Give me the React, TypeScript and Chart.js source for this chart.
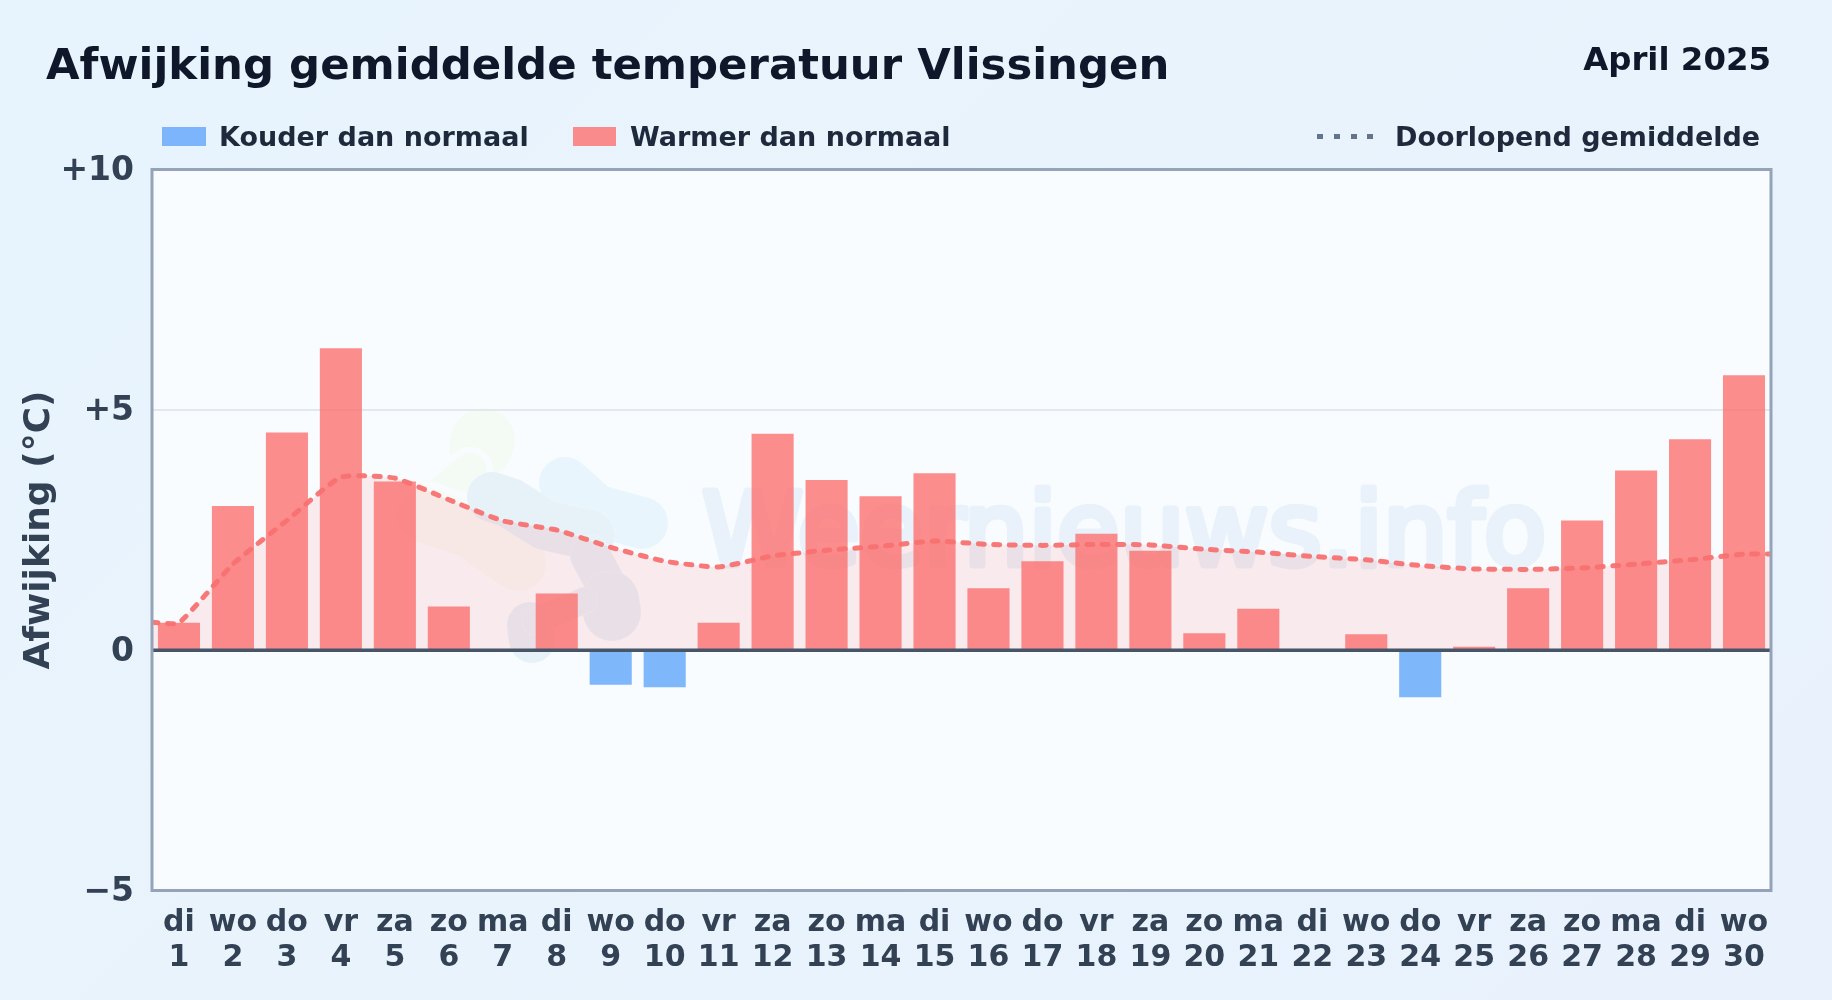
import React, { useEffect, useRef } from "react";
import { Chart, registerables } from "chart.js";

Chart.register(...registerables);

const TITLE = "Afwijking gemiddelde temperatuur Vlissingen";
const PERIOD = "April 2025";
const LABEL_COLD = "Kouder dan normaal";
const LABEL_WARM = "Warmer dan normaal";
const LABEL_AVG = "Doorlopend gemiddelde";
const Y_TITLE = "Afwijking (°C)";
const WATERMARK = "Weernieuws.info";

const weekdays = ["di","wo","do","vr","za","zo","ma","di","wo","do","vr","za","zo","ma","di","wo","do","vr","za","zo","ma","di","wo","do","vr","za","zo","ma","di","wo"];
const days = [1,2,3,4,5,6,7,8,9,10,11,12,13,14,15,16,17,18,19,20,21,22,23,24,25,26,27,28,29,30];
const deviations = [0.57,3.0,4.53,6.28,3.51,0.91,0,1.18,-0.72,-0.77,0.57,4.5,3.54,3.2,3.68,1.29,1.85,2.42,2.07,0.35,0.86,0.02,0.33,-0.98,0.07,1.29,2.7,3.74,4.39,5.72];
const runningMean = [0.57,1.79,2.7,3.6,3.58,3.13,2.69,2.5,2.14,1.85,1.73,1.96,2.08,2.16,2.27,2.2,2.18,2.2,2.19,2.1,2.04,1.95,1.88,1.76,1.69,1.68,1.71,1.79,1.88,2.0];
const edgeMeans = [0.58, 2.0];
const yTicks = [-5, 0, 5, 10];

const FONT = '"DejaVu Sans", sans-serif';

const coldPoints = days.map((d, i) => ({ x: d, y: deviations[i] })).filter((p) => p.y < 0);
const warmPoints = days.map((d, i) => ({ x: d, y: deviations[i] })).filter((p) => p.y >= 0);
const meanPoints = [
  { x: 0.5, y: edgeMeans[0] },
  ...days.map((d, i) => ({ x: d, y: runningMean[i] })),
  { x: 30.5, y: edgeMeans[1] },
];

const GREEN = "rgb(206,243,155)";
const SKY = "rgb(98,184,230)";
const BLUE = "rgb(73,143,188)";
const GOLD = "rgb(238,240,165)";
const logoStrokes: [string, number, number[][]][] = [
  [GREEN, 64, [[483, 440], [481, 446]]],
  [GREEN, 34, [[470, 470], [440, 495]]],
  [GOLD, 56, [[425, 515], [470, 530], [518, 563]]],
  [SKY, 52, [[565, 483], [595, 510], [642, 523]]],
  [BLUE, 50, [[492, 497], [510, 503], [545, 525], [590, 535]]],
  [BLUE, 40, [[590, 555], [606, 585]]],
  [BLUE, 58, [[610, 600], [612, 612]]],
  [BLUE, 46, [[530, 625], [532, 640]]],
  [BLUE, 26, [[535, 622], [585, 600]]],
];

const watermark = {
  id: "watermark",
  beforeDatasetsDraw(chart: any) {
    const { ctx } = chart;
    const logo = document.createElement("canvas");
    logo.width = chart.width;
    logo.height = chart.height;
    const l = logo.getContext("2d") as CanvasRenderingContext2D;
    l.lineCap = "round";
    l.lineJoin = "round";
    logoStrokes.forEach(([color, width, pts]) => {
      l.beginPath();
      l.moveTo(pts[0][0], pts[0][1]);
      pts.slice(1).forEach((p) => l.lineTo(p[0], p[1]));
      l.globalCompositeOperation = "destination-out";
      l.lineWidth = width + 12;
      if (color === BLUE) l.lineWidth = width;
      l.stroke();
      l.globalCompositeOperation = "source-over";
      l.strokeStyle = color;
      l.lineWidth = width;
      l.stroke();
    });

    const word = document.createElement("canvas");
    word.width = chart.width;
    word.height = chart.height;
    const w = word.getContext("2d") as CanvasRenderingContext2D;
    w.font = `400 102.4px ${FONT}`;
    w.textBaseline = "alphabetic";
    w.textAlign = "left";
    w.fillStyle = "rgb(59,130,196)";
    w.strokeStyle = "rgb(59,130,196)";
    w.lineWidth = 7;
    w.lineJoin = "round";
    w.fillText(WATERMARK, 702, 565);
    w.strokeText(WATERMARK, 702, 565);

    ctx.save();
    ctx.globalAlpha = 0.09;
    ctx.drawImage(logo, 0, 0);
    ctx.globalAlpha = 0.07;
    ctx.drawImage(word, 0, 0);
    ctx.restore();
  },
};

const plotBackground = {
  id: "plotBackground",
  beforeDraw(chart: any) {
    const { ctx, chartArea: a } = chart;
    ctx.save();
    ctx.fillStyle = "#f8fcff";
    ctx.fillRect(a.left, a.top, a.width, a.height);
    ctx.restore();
  },
};

const zeroLine = {
  id: "zeroLine",
  afterDatasetsDraw(chart: any) {
    const { ctx, chartArea: a, scales } = chart;
    const y = scales.y.getPixelForValue(0);
    ctx.save();
    ctx.strokeStyle = "#475569";
    ctx.lineWidth = 3.5;
    ctx.beginPath();
    ctx.moveTo(a.left, y);
    ctx.lineTo(a.right, y);
    ctx.stroke();
    ctx.restore();
  },
};

const frame = {
  id: "frame",
  afterDraw(chart: any) {
    const { ctx, chartArea: a } = chart;
    ctx.save();
    ctx.strokeStyle = "#94a3b8";
    ctx.lineWidth = 3;
    ctx.strokeRect(a.left, a.top, a.width, a.height);

    ctx.textBaseline = "alphabetic";
    ctx.fillStyle = "#0f172a";
    ctx.textAlign = "left";
    ctx.font = `700 43.4px ${FONT}`;
    ctx.fillText(TITLE, 46, 79);
    ctx.textAlign = "right";
    ctx.font = `700 32.4px ${FONT}`;
    ctx.fillText(PERIOD, 1771, 70);

    ctx.textAlign = "left";
    ctx.font = `700 27px ${FONT}`;
    ctx.fillStyle = "rgba(96,165,250,0.8)";
    ctx.fillRect(162, 127, 44, 19);
    ctx.fillStyle = "rgba(252,113,113,0.8)";
    ctx.fillRect(573, 127, 43, 19);
    ctx.fillStyle = "#1e293b";
    ctx.fillText(LABEL_COLD, 219, 146);
    ctx.fillText(LABEL_WARM, 630, 146);
    ctx.fillText(LABEL_AVG, 1395, 146);
    ctx.fillStyle = "#64748b";
    [1317, 1334, 1351, 1367].forEach((x) => ctx.fillRect(x, 134, 6, 5));
    ctx.restore();
  },
};

export default function App() {
  const ref = useRef<HTMLCanvasElement>(null);
  useEffect(() => {
    if (!ref.current) return;
    const chart = new Chart(ref.current, {
      data: {
        datasets: [
          {
            type: "line",
            label: LABEL_AVG,
            data: meanPoints,
            order: 0,
            borderColor: "rgba(248,113,113,0.95)",
            borderWidth: 5,
            borderDash: [6, 9.5],
            borderCapStyle: "round",
            backgroundColor: "rgba(248,113,113,0.13)",
            fill: "origin",
            tension: 0.15,
            pointRadius: 0,
          },
          {
            type: "bar",
            label: LABEL_COLD,
            data: coldPoints,
            order: 1,
            grouped: false,
            backgroundColor: "rgba(96,165,250,0.8)",
            barPercentage: 0.78,
            categoryPercentage: 1,
          },
          {
            type: "bar",
            label: LABEL_WARM,
            data: warmPoints,
            order: 1,
            grouped: false,
            backgroundColor: "rgba(252,113,113,0.8)",
            barPercentage: 0.78,
            categoryPercentage: 1,
          },
        ],
      } as any,
      options: {
        animation: false,
        responsive: false,
        devicePixelRatio: 1,
        layout: { padding: { top: 169.5, right: 61, bottom: 0, left: 0 } },
        plugins: { legend: { display: false }, tooltip: { enabled: false }, title: { display: false } },
        scales: {
          x: {
            type: "linear",
            min: 0.5,
            max: 30.5,
            offset: false,
            grid: { display: false },
            border: { display: false },
            afterFit: (s: any) => { s.height = 109.5; },
            afterBuildTicks: (s: any) => { s.ticks = days.map((d) => ({ value: d })); },
            ticks: {
              autoSkip: false,
              maxRotation: 0,
              minRotation: 0,
              padding: 7,
              color: "#334155",
              font: { family: FONT, weight: 700, size: 30, lineHeight: 1.17 },
              callback: (v: any) => [weekdays[Number(v) - 1], String(v)],
            },
          },
          y: {
            type: "linear",
            min: -5,
            max: 10,
            afterFit: (s: any) => { s.width = 152; },
            afterBuildTicks: (s: any) => { s.ticks = yTicks.map((v) => ({ value: v })); },
            grid: { color: "#e2e8f0", lineWidth: 2, drawTicks: false },
            border: { display: false },
            title: {
              display: true,
              text: Y_TITLE,
              color: "#334155",
              font: { family: FONT, weight: 700, size: 36, lineHeight: 1.2 },
              padding: { top: 18, bottom: 0 },
            },
            ticks: {
              padding: 18,
              labelOffset: 2,
              color: "#334155",
              font: { family: FONT, weight: 700, size: 33 },
              callback: (v: any) => (v > 0 ? `+${v}` : v < 0 ? `\u2212${Math.abs(v)}` : "0"),
            },
          },
        },
      } as any,
      plugins: [plotBackground, watermark, zeroLine, frame],
    });
    return () => chart.destroy();
  }, []);
  return (
    <div style={{ position: "absolute", left: 0, top: 0, width: 1832, height: 1000, overflow: "hidden", background: "linear-gradient(135deg,#e8f4fd 0%,#e9f2fc 100%)" }}>
      <canvas ref={ref} width={1832} height={1000} style={{ display: "block", width: 1832, height: 1000 }} />
    </div>
  );
}
